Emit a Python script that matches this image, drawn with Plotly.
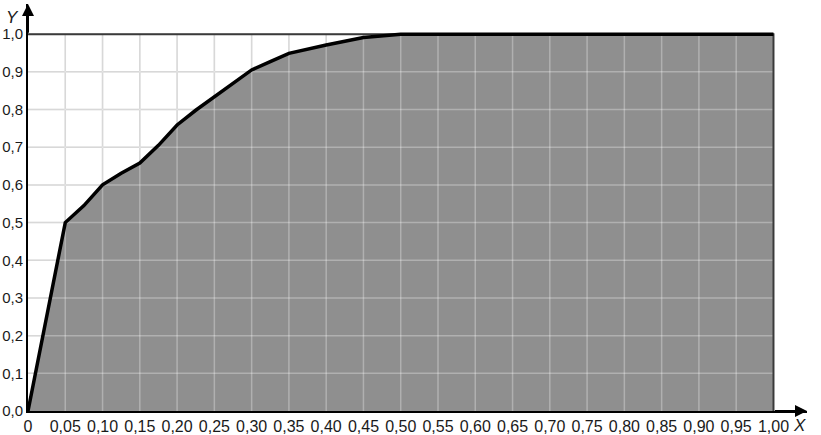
import plotly.graph_objects as go

# curve
x_vals = [0, 0.05, 0.075, 0.10, 0.125, 0.15, 0.175, 0.20, 0.225, 0.25, 0.275, 0.30, 0.325, 0.35, 0.40, 0.45, 0.50, 1.00]
y_vals = [0, 0.50, 0.545, 0.60, 0.631, 0.658, 0.705, 0.759, 0.798, 0.834, 0.869, 0.905, 0.927, 0.949, 0.971, 0.991, 1.00, 1.00]

x_ticks = [round(i * 0.05, 2) for i in range(21)]
x_text = ['0'] + [('%.2f' % v).replace('.', ',') for v in x_ticks[1:]]
y_ticks = [round(i * 0.1, 1) for i in range(11)]
y_text = [('%.1f' % v).replace('.', ',') for v in y_ticks]

# grid segments inside the 0..1 box
gx, gy = [], []
for v in x_ticks[1:]:
    gx += [v, v, None]
    gy += [0, 1, None]
for v in y_ticks[1:]:
    gx += [0, 1, None]
    gy += [v, v, None]

fig = go.Figure()
fig.add_trace(go.Scatter(x=gx, y=gy, mode='lines', line=dict(color='#c8c8c8', width=1.5), hoverinfo='skip'))
fig.add_trace(go.Scatter(x=x_vals, y=y_vals, mode='lines', fill='tozeroy', fillcolor='#8f8f8f',
                         line=dict(color='rgba(0,0,0,0)', width=0), hoverinfo='skip'))
fig.add_trace(go.Scatter(x=gx, y=gy, mode='lines', line=dict(color='rgba(255,255,255,0.3)', width=1.5), hoverinfo='skip'))
fig.add_trace(go.Scatter(x=[0, 1, 1], y=[1, 1, 0], mode='lines', line=dict(color='#3a3a3a', width=2), hoverinfo='skip'))
fig.add_trace(go.Scatter(x=x_vals, y=y_vals, mode='lines', line=dict(color='black', width=3.5), hoverinfo='skip'))

tick_font = dict(family='Liberation Sans, Arial, sans-serif', size=16, color='#1a1a1a')
ytick_font = dict(family='Liberation Sans, Arial, sans-serif', size=15, color='#1a1a1a')
fig.update_layout(
    width=821, height=435,
    margin=dict(l=28, r=14, t=4, b=24),
    plot_bgcolor='white', paper_bgcolor='white',
    showlegend=False,
    font=tick_font,
    xaxis=dict(range=[0, 1.045], tickvals=x_ticks, ticktext=x_text, showgrid=False, zeroline=False,
               showline=True, linecolor='black', linewidth=2, ticks='', ticklabelstandoff=0,
               tickfont=tick_font, automargin=False),
    yaxis=dict(range=[0, 1.08], tickvals=y_ticks, ticktext=y_text, showgrid=False, zeroline=False,
               showline=True, linecolor='black', linewidth=2, ticks='', ticklabelstandoff=0,
               tickfont=ytick_font, automargin=False),
    annotations=[
        dict(x=1.045, y=0, ax=1.0, ay=0, xref='x', yref='y', axref='x', ayref='y', text='',
             showarrow=True, arrowhead=2, arrowsize=1.2, arrowwidth=2, arrowcolor='black'),
        dict(x=0, y=1.08, ax=0, ay=1.0, xref='x', yref='y', axref='x', ayref='y', text='',
             showarrow=True, arrowhead=2, arrowsize=1.2, arrowwidth=2, arrowcolor='black'),
        dict(x=1.035, y=0, xref='x', yref='y', text='<i>X</i>', showarrow=False,
             xanchor='center', yanchor='top', yshift=-3, font=dict(size=17)),
        dict(x=0, y=1.075, xref='x', yref='y', text='<i>Y</i>', showarrow=False,
             xanchor='right', yanchor='top', xshift=-7, font=dict(size=17)),
    ],
)

fig.write_html("out.html", config={'displayModeBar': False},
               post_script="document.body.style.margin='0';")
